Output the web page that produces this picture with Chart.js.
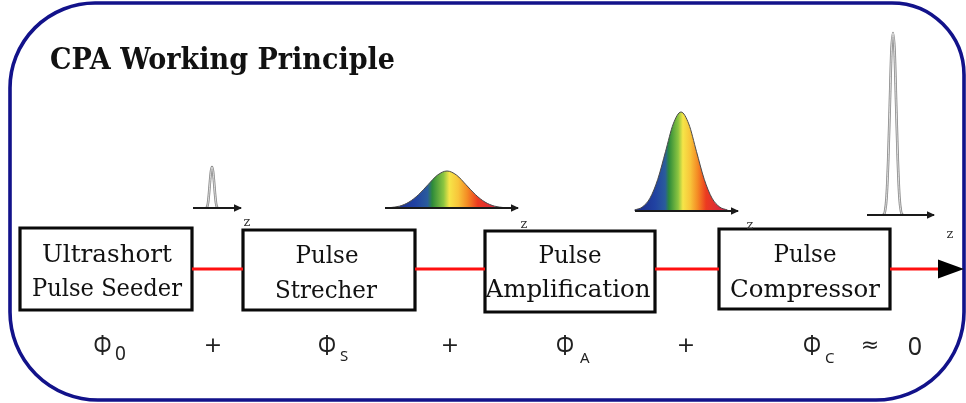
<!DOCTYPE html>
<html>
<head>
<meta charset="utf-8">
<script src="https://cdn.jsdelivr.net/npm/chart.js@4/dist/chart.umd.min.js"></script>
<style>
html,body{margin:0;padding:0;background:#fff;}
#wrap{width:966px;height:403px;position:relative;}
</style>
</head>
<body>
<div id="wrap"><canvas id="c"></canvas></div>
<script>
// ---------- content ----------
const title = 'CPA Working Principle';
const stageLines = [['Ultrashort','Pulse Seeder'],['Pulse','Strecher'],['Pulse','Amplification'],['Pulse','Compressor']];
const phaseSymbol = 'Φ';
const phaseSubscripts = ['0','S','A','C'];
const operators = ['+','+','+','≈'];
const phaseSum = '0';
const axisLabel = 'z';
// pulse profiles: sample offsets (in pulse-width units) and relative amplitudes
const pulseOffsets = [-3,-2.5,-2,-1.5,-1,-0.5,0,0.5,1,1.5,2,2.5,3];
const seedPulse       = [0,0.02,0.12,0.35,0.65,0.9,1,0.9,0.65,0.35,0.12,0.02,0];
const stretchedPulse  = [0.01,0.05,0.16,0.36,0.63,0.89,1,0.89,0.63,0.36,0.16,0.05,0.01];
const amplifiedPulse  = [0.01,0.04,0.13,0.32,0.6,0.88,1,0.88,0.6,0.32,0.13,0.04,0.01];
const compressedPulse = [0,0.02,0.1,0.3,0.6,0.9,1,0.9,0.6,0.3,0.1,0.02,0];

// ---------- layout (diagram units == pixels) ----------
const L = {
  frame:{x0:10,y0:3,x1:964,y1:400,r:[85,72,88,88]},
  title:{x:50,base:69,size:29,w:345},
  boxes:[
    {x0:20,x1:192,y0:228,y1:310,l:[{cx:107,b:262,w:130},{cx:107,b:296,w:150}]},
    {x0:243,x1:415,y0:230,y1:310,l:[{cx:327,b:263,w:63},{cx:326,b:298,w:102}]},
    {x0:485,x1:655,y0:231,y1:312,l:[{cx:570,b:263,w:63},{cx:568,b:297,w:165}]},
    {x0:719,x1:890,y0:229,y1:309,l:[{cx:805,b:262,w:63},{cx:805,b:297,w:150}]}
  ],
  beamY:269,
  beams:[[192,243],[415,485],[655,719],[890,940]],
  outHead:{tip:963,len:26,half:9.5},
  pulses:[
    {amp:seedPulse,cx:212,base:208,h:41,s:2,axis:[193,241],rainbow:false,z:[247,222]},
    {amp:stretchedPulse,cx:447,base:208,h:37,s:19,axis:[385,518],rainbow:true,z:[524,224]},
    {amp:amplifiedPulse,cx:681,base:211,h:99,s:15.5,axis:[635,738],rainbow:true,z:[750,225]},
    {amp:compressedPulse,cx:893,base:215,h:182,s:3.2,axis:[867,934],rainbow:false,z:[950,234]}
  ],
  phi:{base:355,size:28,w:18,cx:[102.5,327,565,812],sub:[115,340,580,825],subBase:[360,361,363,363],subSize:[19,15,15,15]},
  ops:{cx:[213,450,686,870],base:352,size:22},
  sum:{cx:915,base:355,size:25}
};

const rainbowStops = [[0,'#1b2a86'],[0.22,'#2142a2'],[0.33,'#2a5c9c'],[0.37,'#2d8a3a'],[0.47,'#8cc540'],[0.52,'#f6e548'],[0.6,'#f8c43a'],[0.68,'#f48a24'],[0.77,'#ec3a20'],[1,'#cf1f4e']];

// ---------- datasets ----------
const datasets = [];
L.pulses.forEach((p) => {
  const pts = pulseOffsets.map((o,i)=>({x:p.cx+o*p.s, y:p.base-p.amp[i]*p.h}));
  if (p.rainbow) {
    datasets.push({
      data:pts, borderColor:'#4a4a4a', borderWidth:1, pointRadius:0, cubicInterpolationMode:'monotone', order:2,
      fill:{value:p.base},
      backgroundColor:(ctx) => {
        const ch = ctx.chart; if (!ch.chartArea) return '#888';
        const xs = ch.scales.x;
        const g = ch.ctx.createLinearGradient(xs.getPixelForValue(p.cx-3*p.s),0,xs.getPixelForValue(p.cx+3*p.s),0);
        rainbowStops.forEach(s=>g.addColorStop(s[0],s[1]));
        return g;
      }
    });
  } else {
    datasets.push({data:pts, borderColor:'#8a8a8a', borderWidth:2.6, pointRadius:0, cubicInterpolationMode:'monotone', fill:false, order:2});
    datasets.push({data:pts, borderColor:'#e6e6e6', borderWidth:0.9, pointRadius:0, cubicInterpolationMode:'monotone', fill:false, order:1.5});
  }
  datasets.push({data:[{x:p.axis[0],y:p.base},{x:p.axis[1],y:p.base}], borderColor:'#1a1a1a', borderWidth:2, pointRadius:0, fill:false, arrow:{len:8,half:3.8,color:'#1a1a1a'}, order:1});
});
L.beams.forEach((b)=>{
  datasets.push({data:[{x:b[0],y:L.beamY},{x:b[1],y:L.beamY}], borderColor:'#ff1010', borderWidth:3, pointRadius:0, fill:false, order:3});
});
L.boxes.forEach(b=>{
  datasets.push({data:[{x:b.x0,y:b.y0},{x:b.x1,y:b.y0},{x:b.x1,y:b.y1},{x:b.x0,y:b.y1},{x:b.x0,y:b.y0}],
    borderColor:'#0a0a0a', borderWidth:3.2, borderJoinStyle:'miter', borderCapStyle:'square', pointRadius:0, fill:false, order:3});
});
datasets.push({data:[{x:L.outHead.tip-L.outHead.len,y:L.beamY},{x:L.outHead.tip,y:L.beamY}], borderColor:'rgba(0,0,0,0)', borderWidth:0, pointRadius:0, fill:false, arrow:{len:L.outHead.len,half:L.outHead.half,color:'#000'}, order:0});

// ---------- plugins ----------
function fitText(ctx, text, x, y, font, w, align) {
  ctx.font = font;
  const m = ctx.measureText(text).width;
  const sx = w ? w/m : 1;
  ctx.save(); ctx.translate(x,y); ctx.scale(sx,1);
  ctx.textAlign = align||'center'; ctx.textBaseline='alphabetic';
  ctx.fillText(text,0,0); ctx.restore();
}
const diagramPlugin = {
  id:'diagram',
  beforeDraw(chart){
    const {ctx} = chart; const X=v=>chart.scales.x.getPixelForValue(v), Y=v=>chart.scales.y.getPixelForValue(v);
    ctx.save(); ctx.fillStyle='#fff'; ctx.fillRect(0,0,chart.width,chart.height);
    const f=L.frame;
    ctx.beginPath(); ctx.roundRect(X(f.x0),Y(f.y0),X(f.x1)-X(f.x0),Y(f.y1)-Y(f.y0),f.r);
    ctx.strokeStyle='#12128a'; ctx.lineWidth=3.6; ctx.stroke();
    ctx.restore();
  },
  afterDatasetsDraw(chart){
    const {ctx} = chart; const X=v=>chart.scales.x.getPixelForValue(v), Y=v=>chart.scales.y.getPixelForValue(v);
    chart.data.datasets.forEach((ds,i)=>{
      if(!ds.arrow) return;
      const meta = chart.getDatasetMeta(i); const p = meta.data[meta.data.length-1];
      ctx.save(); ctx.fillStyle=ds.arrow.color; ctx.beginPath();
      ctx.moveTo(p.x+1,p.y); ctx.lineTo(p.x+1-ds.arrow.len,p.y-ds.arrow.half); ctx.lineTo(p.x+1-ds.arrow.len,p.y+ds.arrow.half); ctx.closePath(); ctx.fill(); ctx.restore();
    });
    ctx.save();
    ctx.fillStyle='#111';
    fitText(ctx,title,X(L.title.x),Y(L.title.base),`bold ${L.title.size}px "DejaVu Serif"`,L.title.w,'left');
    L.boxes.forEach((b,i)=>{
      b.l.forEach((ln,j)=>fitText(ctx,stageLines[i][j],X(ln.cx),Y(ln.b),'25px "DejaVu Serif"',ln.w,'center'));
    });
    ctx.fillStyle='#222';
    L.phi.cx.forEach((cx,i)=>{
      fitText(ctx,phaseSymbol,X(cx),Y(L.phi.base),`${L.phi.size}px "Noto Sans"`,L.phi.w,'center');
      fitText(ctx,phaseSubscripts[i],X(L.phi.sub[i]),Y(L.phi.subBase[i]),`${L.phi.subSize[i]}px "Noto Sans"`,null,'left');
    });
    L.ops.cx.forEach((cx,i)=>fitText(ctx,operators[i],X(cx),Y(L.ops.base),`${L.ops.size}px "DejaVu Sans"`,null,'center'));
    fitText(ctx,phaseSum,X(L.sum.cx),Y(L.sum.base),`${L.sum.size}px "Noto Sans"`,null,'center');
    ctx.fillStyle='#333';
    L.pulses.forEach(p=>fitText(ctx,axisLabel,X(p.z[0]),Y(p.z[1]+4),'13px "DejaVu Serif"',null,'center'));
    ctx.restore();
  }
};

new Chart(document.getElementById('c'),{
  type:'line',
  data:{datasets},
  options:{
    responsive:true, maintainAspectRatio:false, animation:false,
    layout:{padding:0},
    plugins:{legend:{display:false},tooltip:{enabled:false}},
    elements:{line:{tension:0}},
    scales:{
      x:{type:'linear',min:0,max:966,display:false},
      y:{type:'linear',min:0,max:403,reverse:true,display:false}
    }
  },
  plugins:[diagramPlugin]
});
</script>
</body>
</html>
